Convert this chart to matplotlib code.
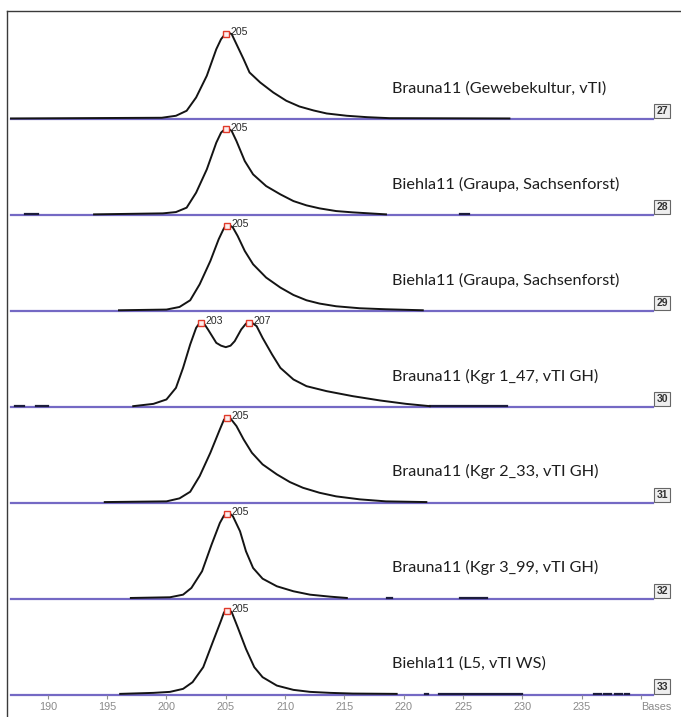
import matplotlib.pyplot as plt
from matplotlib.lines import Line2D
from matplotlib.transforms import ScaledTranslation

# lane ids and sample names (top to bottom)
lane_ids = ['27', '28', '29', '30', '31', '32', '33']
sample_names = ['Brauna11 (Gewebekultur, vTI)',
                'Biehla11 (Graupa, Sachsenforst)',
                'Biehla11 (Graupa, Sachsenforst)',
                'Brauna11 (Kgr 1_47, vTI GH)',
                'Brauna11 (Kgr 2_33, vTI GH)',
                'Brauna11 (Kgr 3_99, vTI GH)',
                'Biehla11 (L5, vTI WS)']

# traces (size in bases, signal)
x27 = [186.9, 199.6, 200.8, 201.7, 202.5, 203.4, 204.2, 204.6, 204.85, 205.05, 205.3, 205.5, 205.9, 206.5,
       207.0, 207.9, 209.0, 210.1, 211.2, 212.4, 213.5, 215.2, 216.9, 218.8, 228.9]
y27 = [0, 0.7, 2.7, 7.7, 21, 42.7, 69.3, 79.3, 83.0, 85.3, 85.4, 84.3, 74.3, 59.3,
       46, 36, 26, 17.7, 12, 8, 5, 2.7, 1.3, 0.3, 0]

x28 = [193.9, 199.7, 200.8, 201.7, 202.5, 203.4, 204.2, 204.6, 204.85, 205.05, 205.3, 205.5, 205.9, 206.6,
       207.3, 208.4, 209.6, 210.7, 211.8, 212.9, 214.3, 215.7, 218.5]
y28 = [0, 1, 2.3, 6.7, 21.7, 45, 71.7, 81.7, 84.5, 85.7, 85.2, 83.3, 73.3, 53.3,
       40, 28.3, 20, 13.3, 9, 6, 3.3, 2, 0]

x29 = [196.0, 200.0, 201.1, 202.0, 202.8, 203.7, 204.4, 204.8, 204.95, 205.1, 205.35, 205.6, 206.0, 206.6,
       207.3, 208.4, 209.6, 210.7, 211.8, 212.9, 214.3, 216.3, 218.5, 221.6]
y29 = [0, 0.7, 3.3, 10, 26, 49.3, 71, 81, 84.0, 85.3, 84.8, 82.7, 74.3, 59.3,
       46, 32.7, 22.7, 15.3, 10, 6.7, 4, 2, 1, 0]

x30 = [197.2, 198.9, 200.0, 200.8, 201.4, 202.0, 202.5, 202.75, 202.95, 203.2, 203.5, 204.2, 204.6, 205.0,
       205.4, 205.75, 206.3, 206.7, 206.93, 207.2, 207.6, 208.1, 208.9, 209.6, 210.7, 211.8, 213.5, 215.7,
       218.0, 220.2, 222.2]
y30 = [0, 2.3, 6.7, 18.3, 38.3, 61.7, 78.3, 82.5, 84.3, 82.0, 76.7, 63.3, 60.5, 59,
       60.5, 65, 76.7, 82.5, 84.3, 83.5, 80, 68.3, 51.7, 38.3, 26.7, 20, 15, 10,
       5.7, 2.3, 0]

x31 = [194.8, 200.0, 201.1, 202.0, 202.8, 203.7, 204.5, 204.85, 205.1, 205.4, 205.9, 206.5, 207.2, 208.1,
       209.3, 210.4, 211.5, 212.9, 214.3, 216.3, 218.5, 221.9]
y31 = [0, 0.7, 3.7, 10.3, 26, 49.3, 72.7, 82.5, 85, 83.5, 76, 62.7, 49.3, 37.7,
       27.7, 20, 14.3, 9.3, 5.7, 2.7, 0.7, 0]

x32 = [197.0, 200.3, 201.4, 202.1, 203.0, 203.8, 204.5, 204.85, 205.1, 205.35, 205.6, 206.2, 206.7, 207.3,
       208.1, 209.3, 210.7, 212.1, 213.8, 215.2]
y32 = [0, 0.7, 3.3, 10, 26.7, 53.3, 75, 82.5, 85, 84.3, 81.7, 66.7, 46.7, 30,
       19.3, 11.7, 6.7, 3.3, 1.3, 0]

x33 = [196.1, 198.9, 200.3, 201.4, 202.2, 203.1, 203.9, 204.6, 204.85, 205.1, 205.3, 205.5, 206.0, 206.7,
       207.4, 208.1, 209.3, 210.7, 212.1, 213.8, 215.7, 219.4]
y33 = [0, 1, 2, 5, 11.7, 26.7, 51.7, 73.3, 81.5, 84, 83.8, 81.7, 66.7, 45,
       26.7, 16.7, 8.3, 4, 2, 1, 0.3, 0]

trace_x = [x27, x28, x29, x30, x31, x32, x33]
trace_y = [y27, y28, y29, y30, y31, y32, y33]

# small flat bits of signal on the baseline
baseline_bits = [[],
                 [(188.1, 189.2), (224.7, 225.5)],
                 [],
                 [(187.2, 188.0), (189.0, 190.0), (222.2, 228.7)],
                 [],
                 [(218.6, 219.0), (224.7, 227.0)],
                 [(221.8, 222.0), (223.0, 230.0), (236.0, 236.6), (236.9, 237.5), (237.8, 238.4), (238.6, 239.0)]]

# called peaks
peak_x = [[205.05], [205.05], [205.1], [202.95, 206.93], [205.1], [205.1], [205.1]]
peak_y = [[85.3], [85.7], [85.3], [84.3, 84.3], [85], [85], [84]]
peak_labels = [['205'], ['205'], ['205'], ['203', '207'], ['205'], ['205'], ['205']]

xticks = [190, 195, 200, 205, 210, 215, 220, 225, 230, 235, 240]
xtick_labels = ['190', '195', '200', '205', '210', '215', '220', '225', '230', '235', 'Bases']

W, H = 681, 717
fig = plt.figure(figsize=(W / 100, H / 100), dpi=100)
fig.patch.set_facecolor('white')

blue = '#7469c4'
lane_h = 95.9
for i in range(len(lane_ids)):
    base_px = 119.3 + i * lane_h
    ax = fig.add_axes([11 / W, 1 - base_px / H, 642 / W, lane_h / H])
    ax.set_xlim(186.9, 241.0)
    ax.set_ylim(0, lane_h)
    ax.patch.set_alpha(0)
    for s in ax.spines.values():
        s.set_visible(False)
    ax.set_yticks([])

    up = ax.transData + ScaledTranslation(0, 0.6 / 72, fig.dpi_scale_trans)
    ax.axhline(0, color=blue, lw=1.6, clip_on=False, zorder=1)
    ax.plot(trace_x[i], trace_y[i], color='#141414', lw=1.4, clip_on=False, zorder=3,
            transform=up, solid_joinstyle='round')
    for a, b in baseline_bits[i]:
        ax.plot([a, b], [0, 0], color='#1c1c3c', lw=1.6, clip_on=False, zorder=2, transform=up)

    for px, py, lab in zip(peak_x[i], peak_y[i], peak_labels[i]):
        ax.plot(px, py, 's', ms=4.2, mec='#e03a2a', mfc='#fdeeee', mew=1.0,
                zorder=5, clip_on=False)
        ax.annotate(lab, (px, py), xytext=(3.2, 1.2), textcoords='offset points',
                    fontsize=7.6, family='Liberation Sans', color='#2a2a2a',
                    ha='left', va='center')

    ax.text(0.594, 31 / lane_h, sample_names[i], transform=ax.transAxes,
            fontsize=11.7, family='Lato', color='#1e1e1e', ha='left', va='center')

    ax.text(1.0145, 0.085, lane_ids[i], transform=ax.transAxes, fontsize=7.5,
            family='Liberation Sans', weight='bold', color='#333', ha='center', va='center',
            bbox=dict(boxstyle='square,pad=0.2', fc='#eeeeee', ec='#666666', lw=0.8),
            clip_on=False)

    if i == len(lane_ids) - 1:
        ax.set_xticks(xticks)
        ax.set_xticklabels(xtick_labels)
        ax.tick_params(axis='x', length=3, width=0.8, color='#909090', pad=2,
                       labelsize=7.8, labelcolor='#8a8a8a')
        for t in ax.get_xticklabels():
            t.set_family('Liberation Sans')
        ax.get_xticklabels()[-1].set_horizontalalignment('left')
    else:
        ax.set_xticks([])

# outer frame (left and top edges)
fig.add_artist(Line2D([7 / W, 7 / W], [0, 1 - 11 / H], transform=fig.transFigure,
                      color='#3a3a3a', lw=1.0))
fig.add_artist(Line2D([7 / W, 1], [1 - 11 / H, 1 - 11 / H], transform=fig.transFigure,
                      color='#3a3a3a', lw=1.0))

fig.savefig('out.png', dpi=100)
